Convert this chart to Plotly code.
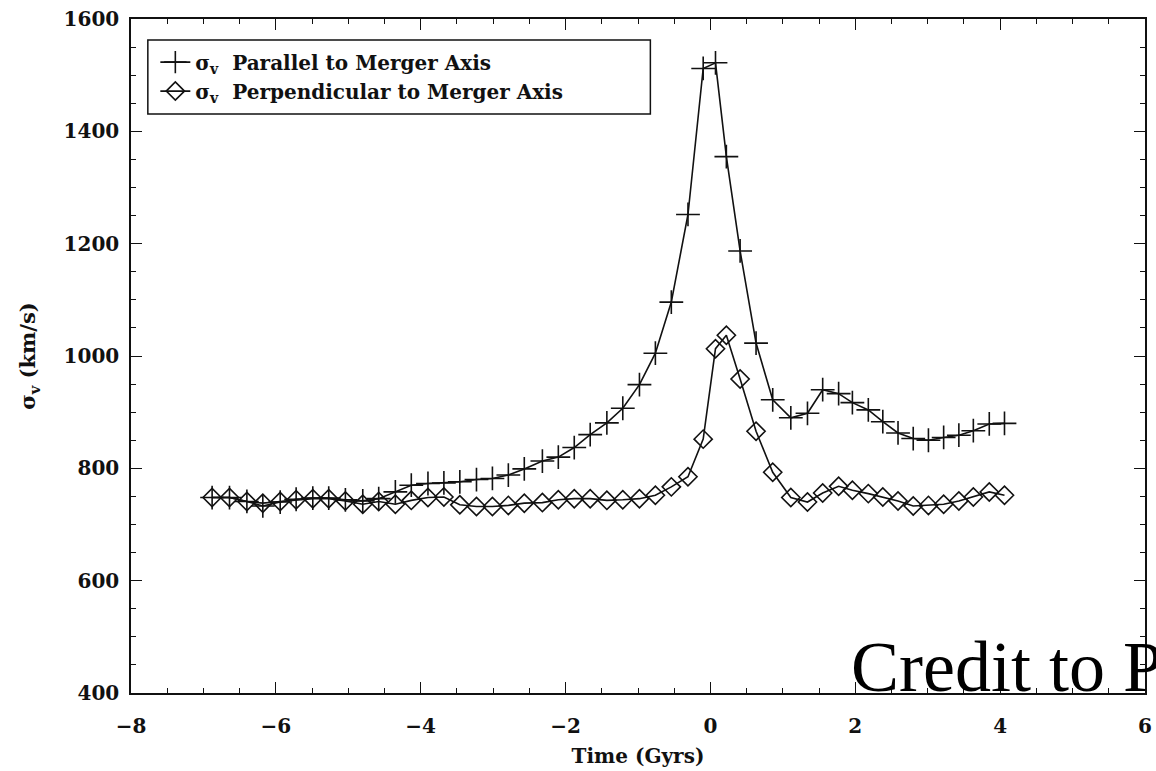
import plotly.graph_objects as go

# Time since core passage (Gyr) for each simulation snapshot
time_gyr = [-6.88, -6.64, -6.40, -6.18, -5.94, -5.72, -5.49, -5.27, -5.04, -4.80,
            -4.58, -4.35, -4.13, -3.90, -3.68, -3.46, -3.23, -3.01, -2.79, -2.57,
            -2.32, -2.10, -1.88, -1.66, -1.43, -1.21, -0.98, -0.76, -0.54, -0.31,
            -0.10, 0.07, 0.22, 0.41, 0.63, 0.86, 1.11, 1.34, 1.55, 1.77,
            1.96, 2.18, 2.38, 2.59, 2.80, 3.01, 3.22, 3.43, 3.63, 3.85, 4.06]

# Velocity dispersion seen along the merger axis (km/s)
sigma_parallel = [748, 748, 741, 733, 740, 745, 747, 747, 744, 742,
                  746, 758, 770, 773, 774, 776, 780, 782, 788, 799,
                  813, 820, 837, 860, 881, 907, 949, 1005, 1096, 1252,
                  1512, 1522, 1355, 1187, 1023, 922, 890, 898, 940, 933,
                  917, 904, 883, 863, 853, 850, 855, 859, 867, 879, 880]

# Velocity dispersion seen perpendicular to the merger axis (km/s)
sigma_perpendicular = [748, 748, 741, 738, 741, 744, 746, 746, 742, 736,
                       741, 736, 743, 748, 749, 735, 732, 732, 734, 738,
                       739, 744, 746, 746, 743, 744, 746, 752, 767, 785,
                       852, 1013, 1037, 959, 866, 793, 748, 740, 756, 768,
                       761, 755, 749, 742, 733, 734, 736, 742, 749, 758, 752]

x_ticks = [-8, -6, -4, -2, 0, 2, 4, 6]
y_ticks = [400, 600, 800, 1000, 1200, 1400, 1600]

SERIF = "DejaVu Serif"
INK = "#111111"

fig = go.Figure()

fig.add_trace(go.Scatter(
    x=time_gyr, y=sigma_parallel, mode="lines+markers",
    name="σ<sub>v</sub>  Parallel to Merger Axis",
    line=dict(color=INK, width=1.6),
    marker=dict(symbol="cross-thin", size=17, color=INK,
                line=dict(color=INK, width=1.6)),
))

fig.add_trace(go.Scatter(
    x=time_gyr, y=sigma_perpendicular, mode="lines+markers",
    name="σ<sub>v</sub>  Perpendicular to Merger Axis",
    line=dict(color=INK, width=1.6),
    marker=dict(symbol="diamond-open", size=14, color=INK,
                line=dict(color=INK, width=1.6)),
))

axis_common = dict(
    showline=True, linecolor=INK, linewidth=1.5, mirror="allticks",
    ticks="inside", ticklen=11, tickwidth=1.3, tickcolor=INK,
    showgrid=False, zeroline=False, ticklabeloverflow="allow",
    tickfont=dict(family=SERIF, size=20, color=INK, weight="bold"),
)

fig.update_xaxes(
    range=[-8, 6], tickvals=x_ticks, ticklabelstandoff=14,
    minor=dict(dtick=0.5, ticks="inside", ticklen=5, tickcolor=INK, tickwidth=1),
    title=dict(text="Time (Gyrs)", standoff=12,
               font=dict(family=SERIF, size=20, color=INK, weight="bold")),
    **axis_common,
)
fig.update_yaxes(
    range=[400, 1600], tickvals=y_ticks, ticklabelstandoff=6,
    minor=dict(dtick=50, ticks="inside", ticklen=5, tickcolor=INK, tickwidth=1),
    title=dict(text="σ<sub>v</sub> (km/s)", standoff=22,
               font=dict(family=SERIF, size=21, color=INK, weight="bold")),
    **axis_common,
)

# Legend frame
fig.add_shape(type="rect", xref="paper", yref="paper",
              x0=0.0166, x1=0.5122, y0=0.859, y1=0.9688,
              line=dict(color=INK, width=1.5), fillcolor="rgba(0,0,0,0)")

fig.add_annotation(
    text="Credit to P", xref="paper", yref="paper", x=0.709, y=-0.022,
    xanchor="left", yanchor="bottom", showarrow=False, borderpad=0,
    font=dict(family="Liberation Serif", size=72, color="black"),
)

fig.update_layout(
    width=1156, height=771,
    margin=dict(l=131, r=4, t=19, b=78),
    paper_bgcolor="white", plot_bgcolor="white",
    showlegend=True,
    legend=dict(x=0.024, y=0.965, xanchor="left", yanchor="top",
                bgcolor="rgba(0,0,0,0)", borderwidth=0,
                font=dict(family=SERIF, size=20, color=INK, weight="bold"),
                itemwidth=30, tracegroupgap=0),
)

fig.write_html("out.html")
